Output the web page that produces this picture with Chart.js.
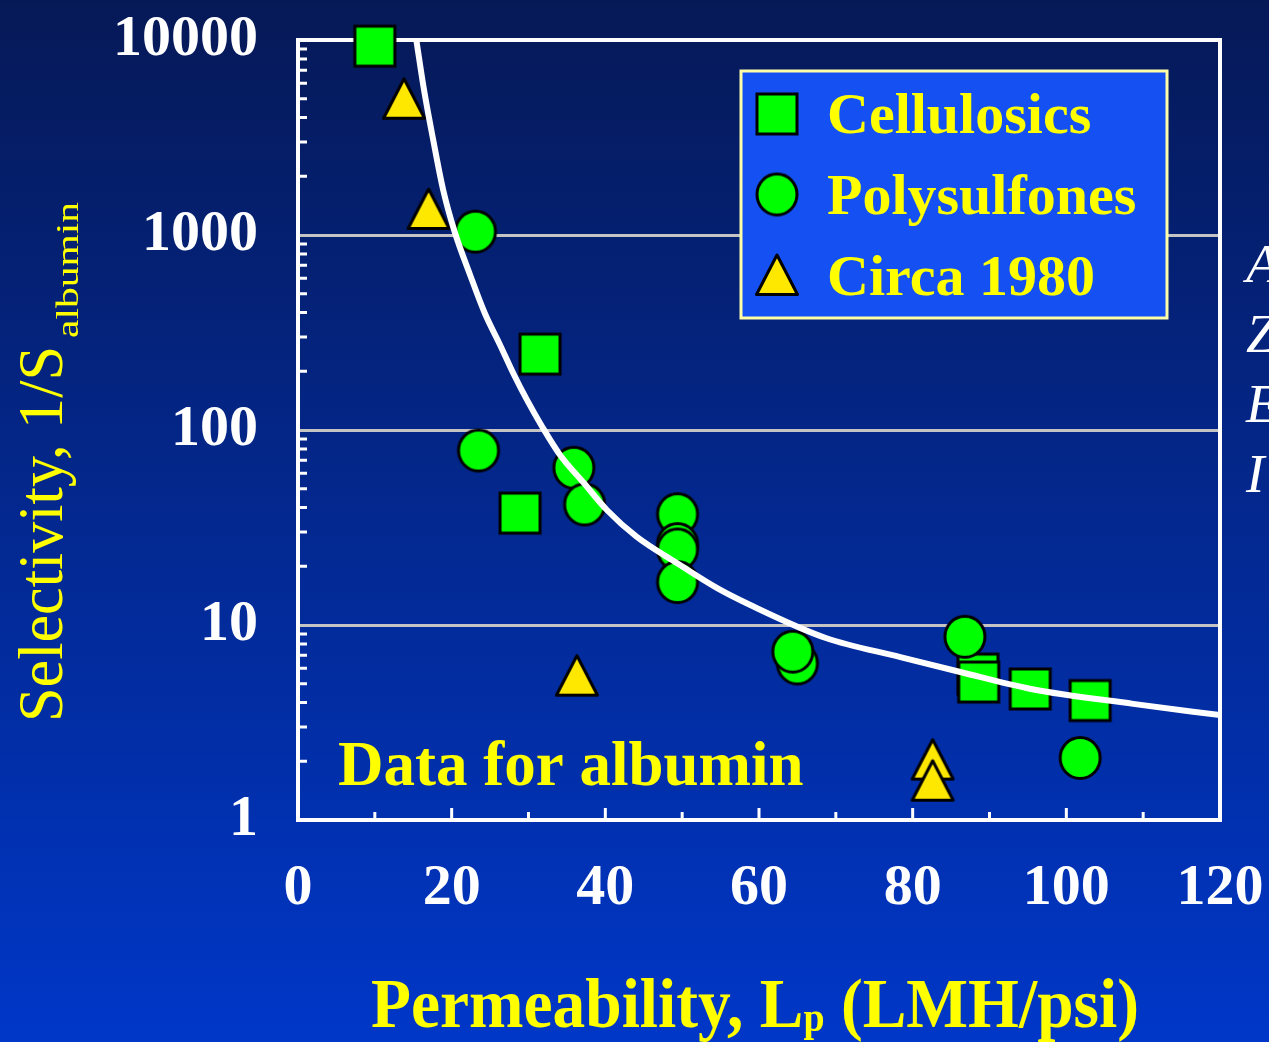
<!DOCTYPE html>
<html>
<head>
<meta charset="utf-8">
<title>Selectivity vs permeability for albumin</title>
<script src="https://cdn.jsdelivr.net/npm/chart.js@4.4.1/dist/chart.umd.min.js"></script>
<style>
    html, body { margin: 0; padding: 0; background: #04248f; }
    #wrap { position: relative; width: 1269px; height: 1042px; }
</style>
</head>
<body>
<div id="wrap"><canvas id="chart"></canvas></div>
<script>
// Values (x = Lp in LMH/psi, y = 1/S albumin)
const cellulosicsX = [10, 31.5, 28.9, 88.5, 88.6, 95.3, 103.1];
const cellulosicsY = [9300, 245, 37.5, 5.6, 5.1, 4.7, 4.1];

const polysulfonesX = [23.1, 23.5, 35.9, 37.3, 49.4, 49.4, 49.4, 49.4, 65.0, 64.4, 86.8, 101.8];
const polysulfonesY = [1040, 78.5, 64, 41.5, 37, 26, 24.4, 16.6, 6.35, 7.3, 8.7, 2.08];

const circa1980X = [13.8, 17.0, 36.3, 82.6, 82.6];
const circa1980Y = [5000, 1360, 5.5, 2.04, 1.59];

// white trend curve
const fitX = [15.4, 16.4, 17.6, 18.9, 20.4, 22.4, 24.3, 26.3, 28.0, 29.8, 31.8, 34.1, 37.1, 40.2, 44.1, 49.3, 54.5, 58.8, 68.7, 78.4, 86.2, 95.4, 108.7, 120];
const fitY = [10000, 5550, 3070, 1700, 1036, 624, 398, 273, 196, 142.6, 103.6, 74.5, 54.1, 38.9, 28.3, 20.8, 15.5, 12.7, 8.58, 6.85, 5.74, 4.7, 3.94, 3.45];

// axes
const xTickValues = [0, 20, 40, 60, 80, 100, 120];
const xMinorTicks = [10, 30, 50, 70, 90, 110];
const yTickValues = [1, 10, 100, 1000, 10000];

const SERIF = "'Liberation Serif', 'Times New Roman', serif";
const YELLOW = '#ffff00';

function toPoints(xs, ys) {
    return xs.map((x, i) => ({ x: x, y: ys[i] }));
}

// marker images so the shapes sit centred on their box like the slide
function makeMarker(shape, fill) {
    const c = document.createElement('canvas');
    c.width = 46;
    c.height = 46;
    const g = c.getContext('2d');
    g.fillStyle = fill;
    g.strokeStyle = '#000000';
    g.lineWidth = 3;
    g.beginPath();
    if (shape === 'square') {
        g.rect(3, 3, 40, 40);
    } else if (shape === 'circle') {
        g.ellipse(23, 23, 20, 20.5, 0, 0, Math.PI * 2);
    } else {
        g.lineJoin = 'round';
        g.moveTo(23, 3);
        g.lineTo(43.5, 42.5);
        g.lineTo(2.5, 42.5);
        g.closePath();
    }
    g.fill();
    g.stroke();
    return c;
}

const squareMarker = makeMarker('square', '#00ff00');
const circleMarker = makeMarker('circle', '#00ff00');
const triangleMarker = makeMarker('triangle', '#ffe800');

// text squeezed to a given width (the slide fonts are a bit condensed)
function drawFitted(ctx, text, x, y, font, width) {
    ctx.font = font;
    const natural = ctx.measureText(text).width;
    ctx.save();
    ctx.translate(x, y);
    ctx.scale(width / natural, 1);
    ctx.fillText(text, 0, 0);
    ctx.restore();
}

const slideBackground = {
    id: 'slideBackground',
    beforeDraw(chart) {
        const { ctx, width, height } = chart;
        const grad = ctx.createLinearGradient(0, 0, 0, height);
        grad.addColorStop(0, '#061957');
        grad.addColorStop(1, '#0037c8');
        ctx.save();
        ctx.fillStyle = grad;
        ctx.fillRect(0, 0, width, height);
        ctx.restore();
    }
};

const frameAndTicks = {
    id: 'frameAndTicks',
    beforeDatasetsDraw(chart) {
        const { ctx, chartArea: a, scales: { x, y } } = chart;
        ctx.save();
        ctx.strokeStyle = '#ffffff';
        ctx.lineWidth = 3;
        ctx.beginPath();
        // inward ticks on the x axis
        xMinorTicks.forEach(v => {
            const px = x.getPixelForValue(v);
            ctx.moveTo(px, a.bottom);
            ctx.lineTo(px, a.bottom - 8);
        });
        xTickValues.slice(1, -1).forEach(v => {
            const px = x.getPixelForValue(v);
            ctx.moveTo(px, a.bottom);
            ctx.lineTo(px, a.bottom - 12);
        });
        // log minor ticks on the y axis
        yTickValues.slice(0, -1).forEach(d => {
            for (let m = 2; m <= 9; m++) {
                const py = y.getPixelForValue(m * d);
                ctx.moveTo(a.left, py);
                ctx.lineTo(a.left + 9, py);
            }
        });
        ctx.stroke();

        // top and right side of the box
        ctx.lineWidth = 4;
        ctx.beginPath();
        ctx.moveTo(a.left - 2, a.top);
        ctx.lineTo(a.right, a.top);
        ctx.lineTo(a.right, a.bottom + 2);
        ctx.stroke();
        ctx.restore();
    }
};

const slideLegend = {
    id: 'slideLegend',
    afterDatasetsDraw(chart) {
        const { ctx } = chart;
        const items = chart.data.datasets.filter(ds => ds.pointStyle instanceof HTMLCanvasElement);
        ctx.save();
        ctx.fillStyle = '#1450f2';
        ctx.fillRect(741, 71, 426, 247);
        ctx.strokeStyle = '#ffffa8';
        ctx.lineWidth = 3;
        ctx.strokeRect(741, 71, 426, 247);

        ctx.font = 'bold 58px ' + SERIF;
        ctx.fillStyle = YELLOW;
        ctx.textBaseline = 'alphabetic';
        items.forEach((ds, i) => {
            const cy = 114 + i * 80.5;
            const img = ds.pointStyle;
            ctx.drawImage(img, 777 - img.width / 2, cy - img.height / 2);
            ctx.fillText(ds.label, 827, 133 + i * 81);
        });

        // note inside the plot
        ctx.font = 'bold 63px ' + SERIF;
        ctx.fillText('Data for albumin', 338, 785);
        ctx.restore();
    }
};

const slideText = {
    id: 'slideText',
    afterDraw(chart) {
        const { ctx } = chart;
        ctx.save();
        ctx.fillStyle = YELLOW;
        ctx.textBaseline = 'alphabetic';

        // y title, rotated, with subscript
        ctx.save();
        ctx.translate(62, 722);
        ctx.rotate(-Math.PI / 2);
        drawFitted(ctx, 'Selectivity, 1/S', 0, 0, '64px ' + SERIF, 376);
        drawFitted(ctx, 'albumin', 384, 16, '31px ' + SERIF, 136);
        ctx.restore();

        // x title with subscript p
        const mainFont = 'bold 69px ' + SERIF;
        const subFont = 'bold 40px ' + SERIF;
        ctx.font = mainFont;
        const w1 = ctx.measureText('Permeability, L').width;
        const w3 = ctx.measureText(' (LMH/psi)').width;
        ctx.font = subFont;
        const w2 = ctx.measureText('p').width;
        const s = 768 / (w1 + w2 + w3);
        ctx.save();
        ctx.translate(371, 1027);
        ctx.scale(s, 1);
        ctx.font = mainFont;
        ctx.fillText('Permeability, L', 0, 0);
        ctx.font = subFont;
        ctx.fillText('p', w1, 4);
        ctx.font = mainFont;
        ctx.fillText(' (LMH/psi)', w1 + w2, 0);
        ctx.restore();

        // cut-off note on the right edge of the slide
        ctx.fillStyle = '#ffffff';
        ctx.font = 'italic 55px ' + SERIF;
        ['A', 'Z', 'E', 'I'].forEach((t, i) => {
            ctx.fillText(t, 1246, 282 + i * 70);
        });
        ctx.restore();
    }
};

new Chart(document.getElementById('chart'), {
    type: 'scatter',
    data: {
        datasets: [{
            label: 'Trend',
            data: toPoints(fitX, fitY),
            showLine: true,
            borderColor: '#ffffff',
            borderWidth: 6,
            pointRadius: 0,
            cubicInterpolationMode: 'monotone',
            order: 0
        }, {
            label: 'Cellulosics',
            data: toPoints(cellulosicsX, cellulosicsY),
            pointStyle: squareMarker,
            pointRadius: 21,
            clip: false,
            order: 2
        }, {
            label: 'Polysulfones',
            data: toPoints(polysulfonesX, polysulfonesY),
            pointStyle: circleMarker,
            pointRadius: 21,
            clip: false,
            order: 1
        }, {
            label: 'Circa 1980',
            data: toPoints(circa1980X, circa1980Y),
            pointStyle: triangleMarker,
            pointRadius: 21,
            clip: false,
            order: 3
        }]
    },
    options: {
        responsive: true,
        maintainAspectRatio: false,
        animation: false,
        events: [],
        layout: {
            padding: { top: 40, right: 49, left: 0, bottom: 0 }
        },
        plugins: {
            legend: { display: false },
            tooltip: { enabled: false }
        },
        scales: {
            x: {
                type: 'linear',
                min: 0,
                max: 120,
                afterBuildTicks: scale => {
                    scale.ticks = xTickValues.map(v => ({ value: v }));
                },
                afterFit: scale => {
                    scale.height = 222;
                    scale.paddingLeft = 0;
                    scale.paddingRight = 0;
                },
                grid: { display: false, drawTicks: false },
                border: { display: true, color: '#ffffff', width: 4 },
                ticks: {
                    color: '#ffffff',
                    padding: 34,
                    maxRotation: 0,
                    autoSkip: false,
                    font: { family: SERIF, size: 58, weight: 'bold' },
                    callback: value => String(value)
                }
            },
            y: {
                type: 'logarithmic',
                min: 1,
                max: 10000,
                afterBuildTicks: scale => {
                    scale.ticks = yTickValues.map(v => ({ value: v }));
                },
                afterFit: scale => {
                    scale.width = 298;
                    scale.paddingTop = 0;
                    scale.paddingBottom = 0;
                },
                grid: {
                    drawTicks: false,
                    lineWidth: 3,
                    color: ctx => (ctx.tick && ctx.tick.value > 1 && ctx.tick.value < 10000) ? '#c4c4c4' : 'rgba(0,0,0,0)'
                },
                border: { display: true, color: '#ffffff', width: 4 },
                ticks: {
                    color: '#ffffff',
                    padding: 40,
                    autoSkip: false,
                    font: { family: SERIF, size: 58, weight: 'bold' },
                    callback: value => String(value)
                }
            }
        }
    },
    plugins: [slideBackground, frameAndTicks, slideLegend, slideText]
});
</script>
</body>
</html>
